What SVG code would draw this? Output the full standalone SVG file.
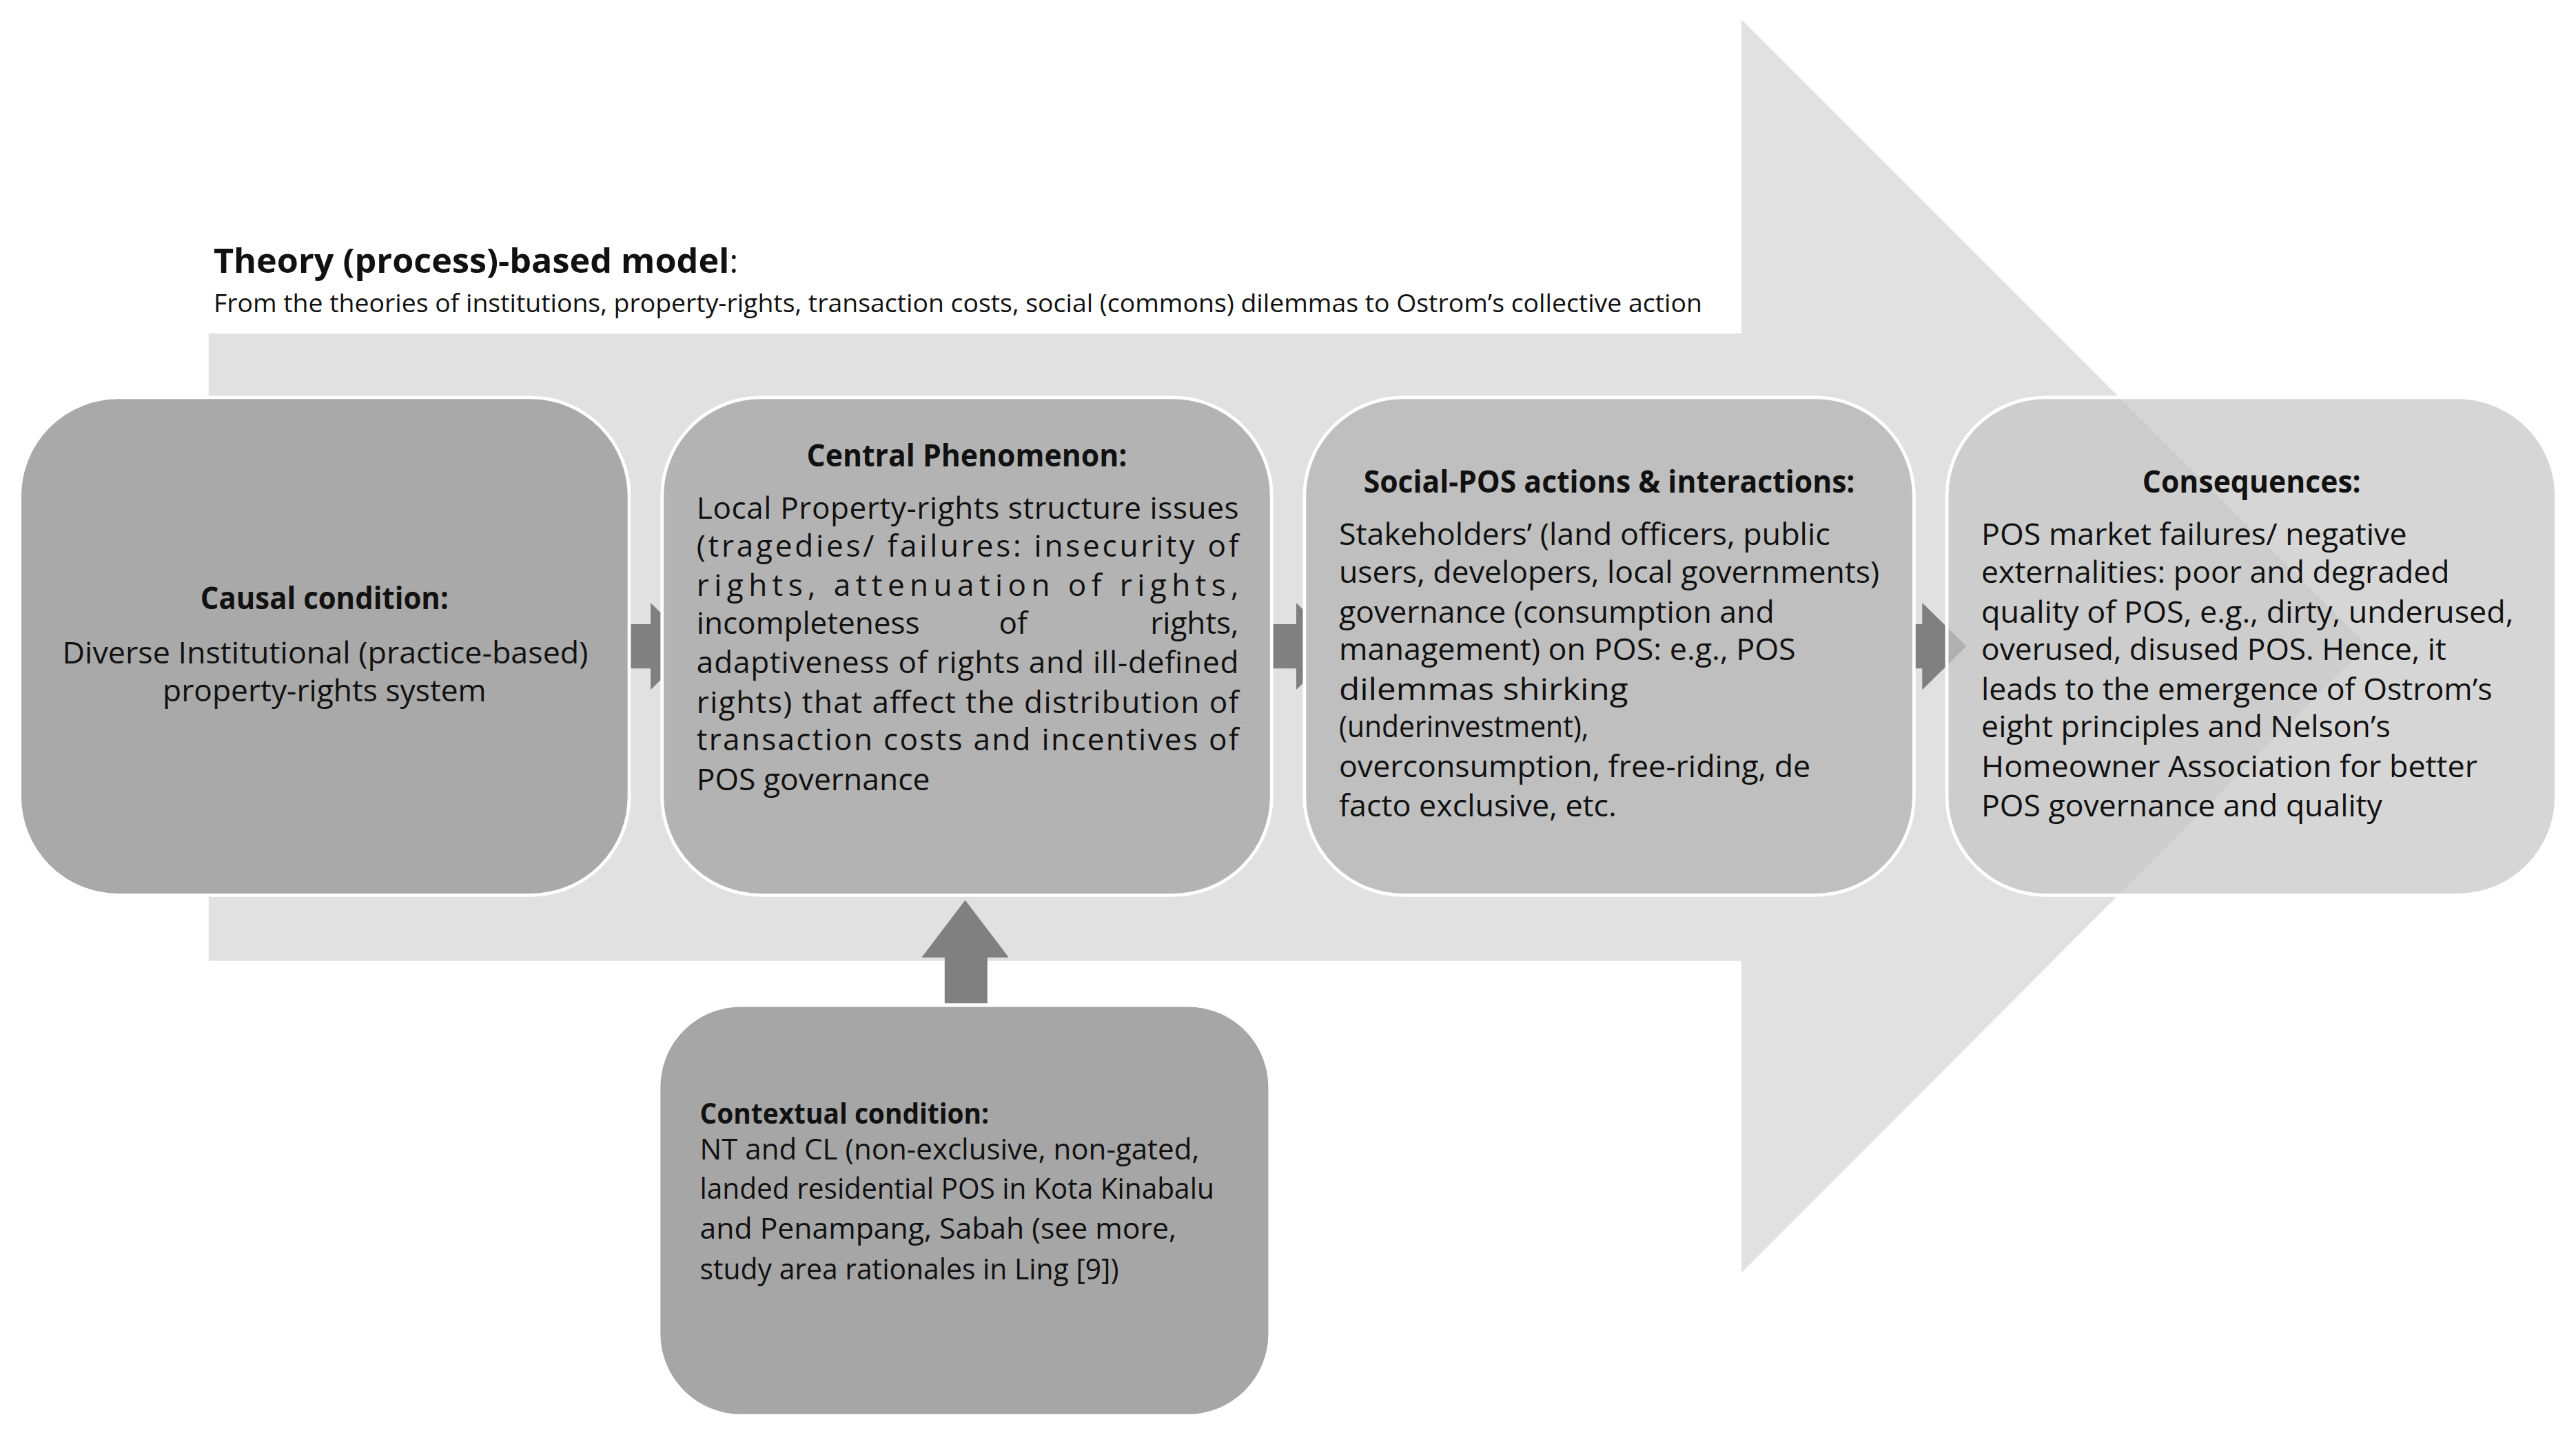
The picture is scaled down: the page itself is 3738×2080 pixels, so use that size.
<svg xmlns="http://www.w3.org/2000/svg" width="3738" height="2080" viewBox="0 0 3738 2080">
<style>
text{font-family:"Open Sans","Noto Sans","Liberation Sans",sans-serif;fill:#111;font-size:18.5px}
.h{font-weight:bold;font-size:18.5px}
.box{stroke:#fff;stroke-width:2}
.arr{fill:#808080}
</style>
<rect width="3738" height="2080" fill="#fff"/>
<g transform="scale(2.384)">
<g id="bigarrow"><polygon points="127,203 1060,203 1060,12 1441,393 1060,775 1060,585 127,585" fill="#e1e1e1"/></g>
<g id="title">
<text x="130" y="166" style="font-size:20px"><tspan font-weight="bold" textLength="314" lengthAdjust="spacingAndGlyphs">Theory (process)-based model</tspan>:</text>
<text x="130" y="190" style="font-size:15px" textLength="906" lengthAdjust="spacingAndGlyphs">From the theories of institutions, property-rights, transaction costs, social (commons) dilemmas to Ostrom’s collective action</text>
</g>
<g id="connectors">
<polygon class="arr" points="370,380 396,380 396,367 423,393.5 396,420 396,407 370,407"/>
<polygon class="arr" points="763,380 789,380 789,367 816,393.5 789,420 789,407 763,407"/>
<polygon class="arr" points="1144,380 1170,380 1170,367 1197,393.5 1170,420 1170,407 1144,407"/>
<polygon class="arr" points="575,611 575,583 561,583 587.5,548 614,583 601,583 601,611"/>
</g>
<g id="causal">
<rect class="box" x="12" y="242" width="371" height="303" rx="60" fill="#a9a9a9"/>
<text class="h" x="122" y="371" textLength="151" lengthAdjust="spacingAndGlyphs">Causal condition:</text>
<text x="38" y="404" textLength="320" lengthAdjust="spacingAndGlyphs">Diverse Institutional (practice-based)</text>
<text x="99" y="427" textLength="197" lengthAdjust="spacingAndGlyphs">property-rights system</text>
</g>
<g id="central">
<rect class="box" x="403" y="242" width="371" height="303" rx="60" fill="#b3b3b3"/>
<text class="h" x="491" y="284" textLength="195" lengthAdjust="spacingAndGlyphs">Central Phenomenon:</text>
<text x="424" y="316" textLength="330" lengthAdjust="spacing">Local Property-rights structure issues</text>
<text x="424" y="339" textLength="330" lengthAdjust="spacing">(tragedies/ failures: insecurity of</text>
<text x="424" y="363" textLength="330" lengthAdjust="spacing">rights, attenuation of rights,</text>
<text x="424" y="386">incompleteness</text>
<text x="608" y="386">of</text>
<text x="754" y="386" text-anchor="end">rights,</text>
<text x="424" y="410" textLength="330" lengthAdjust="spacing">adaptiveness of rights and ill-defined</text>
<text x="424" y="434" textLength="330" lengthAdjust="spacing">rights) that affect the distribution of</text>
<text x="424" y="457" textLength="330" lengthAdjust="spacing">transaction costs and incentives of</text>
<text x="424" y="481" textLength="142" lengthAdjust="spacingAndGlyphs">POS governance</text>
</g>
<g id="social">
<rect class="box" x="794" y="242" width="371" height="303" rx="60" fill="#bfbfbf"/>
<text class="h" x="830" y="300" textLength="299" lengthAdjust="spacingAndGlyphs">Social-POS actions &amp; interactions:</text>
<text x="815" y="332" textLength="299" lengthAdjust="spacingAndGlyphs">Stakeholders’ (land officers, public</text>
<text x="815" y="355" textLength="329" lengthAdjust="spacingAndGlyphs">users, developers, local governments)</text>
<text x="815" y="379" textLength="265" lengthAdjust="spacingAndGlyphs">governance (consumption and</text>
<text x="815" y="402" textLength="278" lengthAdjust="spacingAndGlyphs">management) on POS: e.g., POS</text>
<text x="815" y="426" textLength="176" lengthAdjust="spacingAndGlyphs">dilemmas shirking</text>
<text x="815" y="449" textLength="152" lengthAdjust="spacingAndGlyphs">(underinvestment),</text>
<text x="815" y="473" textLength="287" lengthAdjust="spacingAndGlyphs">overconsumption, free-riding, de</text>
<text x="815" y="497" textLength="169" lengthAdjust="spacingAndGlyphs">facto exclusive, etc.</text>
</g>
<g id="consequences">
<rect class="box" x="1185" y="242" width="371" height="303" rx="60" fill="#c4c4c4" fill-opacity="0.7"/>
<text class="h" x="1304" y="300" textLength="133" lengthAdjust="spacingAndGlyphs">Consequences:</text>
<text x="1206" y="332" textLength="259" lengthAdjust="spacingAndGlyphs">POS market failures/ negative</text>
<text x="1206" y="355" textLength="285" lengthAdjust="spacingAndGlyphs">externalities: poor and degraded</text>
<text x="1206" y="379" textLength="324" lengthAdjust="spacingAndGlyphs">quality of POS, e.g., dirty, underused,</text>
<text x="1206" y="402" textLength="283" lengthAdjust="spacingAndGlyphs">overused, disused POS. Hence, it</text>
<text x="1206" y="426" textLength="311" lengthAdjust="spacingAndGlyphs">leads to the emergence of Ostrom’s</text>
<text x="1206" y="449" textLength="249" lengthAdjust="spacingAndGlyphs">eight principles and Nelson’s</text>
<text x="1206" y="473" textLength="302" lengthAdjust="spacingAndGlyphs">Homeowner Association for better</text>
<text x="1206" y="497" textLength="244" lengthAdjust="spacingAndGlyphs">POS governance and quality</text>
</g>
<g id="contextual">
<rect class="box" x="401" y="612" width="372" height="250" rx="50" fill="#a6a6a6"/>
<text class="h" x="426" y="684" style="font-size:17.5px" textLength="176" lengthAdjust="spacingAndGlyphs">Contextual condition:</text>
<text x="426" y="706" style="font-size:17.5px" textLength="304" lengthAdjust="spacingAndGlyphs">NT and CL (non-exclusive, non-gated,</text>
<text x="426" y="730" style="font-size:17.5px" textLength="313" lengthAdjust="spacingAndGlyphs">landed residential POS in Kota Kinabalu</text>
<text x="426" y="754" style="font-size:17.5px" textLength="290" lengthAdjust="spacingAndGlyphs">and Penampang, Sabah (see more,</text>
<text x="426" y="779" style="font-size:17.5px" textLength="255" lengthAdjust="spacingAndGlyphs">study area rationales in Ling [9])</text>
</g>
</g>
</svg>
